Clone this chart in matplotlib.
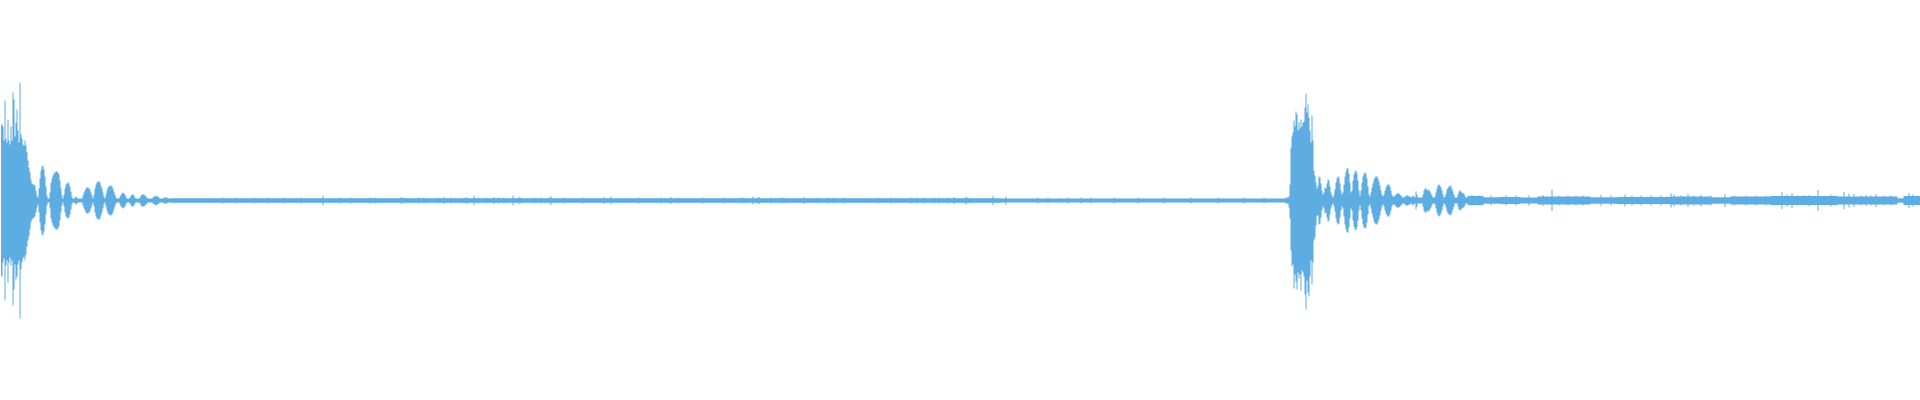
"""Waveform overview: two percussive hits with decaying ring-out on a low noise floor.

Peak envelope per display column (min/max), read off the reference.
Amplitudes are in units of 1/200 full scale.
"""
import numpy as np
import matplotlib.pyplot as plt

OUT = "out.png"
WAVE = "#5DADE2"

N_COLS = 1920
FULL_SCALE = 200

# ---- hit 1 (starts at column 0) ----
HIT1_START = 0
HIT1_TOP = [76, 76, 74, 60, 100, 62, 58, 81, 60, 56, 74, 60, 108, 101, 64, 78, 91, 70, 58, 118,
            66, 62, 56, 55, 60, 55, 48, 40, 33, 28, 21, 17, 16, 16, 15, 10, 5, 3]
HIT1_BOT = [76, 76, 62, 58, 100, 65, 60, 82, 62, 57, 65, 60, 105, 89, 64, 79, 76, 64, 60, 118,
            69, 62, 58, 56, 60, 54, 46, 40, 36, 29, 22, 19, 18, 17, 16, 12, 7, 4]
# ring-out after the attack (symmetric)
HIT1_DECAY = [12, 22, 30, 34, 35, 31, 24, 14, 5, 2, 2,
              8, 18, 22, 25, 27, 28, 29, 29, 28, 26, 20, 12, 5, 2,
              6, 12, 16, 17, 18, 17, 14, 9, 4, 2, 2,
              3, 4, 3, 2, 2, 2, 2, 2,
              5, 8, 10, 12, 13, 13, 12, 11, 8, 5, 2,
              6, 12, 16, 18, 19, 19, 18, 15, 12, 8, 4, 2,
              6, 10, 13, 14, 15, 15, 14, 12, 9, 6, 3, 2, 2, 2,
              4, 6, 7, 8, 7, 6, 4, 2, 2, 2,
              3, 5, 6, 6, 5, 3, 2, 2, 2, 2,
              3, 5, 6, 6, 6, 5, 4, 3, 2, 2, 2, 2, 2,
              3, 4, 4, 5, 4, 4, 3, 2, 2,
              2, 2, 3, 3, 3, 3, 2, 2, 2, 2]

# ---- hit 2 ----
HIT2_START = 1285
HIT2_TOP = [3, 3, 3, 4, 16, 53, 64, 68, 80, 74, 89, 86, 70, 78, 72, 81, 74, 78, 79, 93,
            107, 88, 96, 83, 70, 58, 85, 60, 30, 25, 18, 12]
HIT2_BOT = [3, 3, 3, 7, 18, 50, 66, 64, 88, 74, 81, 89, 72, 78, 74, 90, 70, 72, 76, 94,
            109, 80, 92, 96, 76, 60, 84, 62, 40, 37, 25, 15]
HIT2_DECAY = [15, 24, 23, 17, 10, 6, 8, 13, 12, 17,
              21, 20, 14, 8, 5, 3, 6, 11, 18, 22,
              24, 23, 17, 10, 6, 8, 16, 24, 29, 32,
              32, 27, 18, 8, 10, 20, 26, 29, 30, 27,
              20, 10, 5, 10, 18, 24, 27, 28, 27, 22,
              14, 6, 4, 8, 13, 17, 21, 23, 24, 24,
              22, 19, 15, 10, 6, 4, 6, 10, 13, 15,
              16, 16, 14, 10, 6, 4, 4, 5, 6, 7,
              7, 7, 6, 5, 4, 3, 3, 4, 5, 5,
              5, 4, 4, 3, 4, 5, 4, 3, 9, 6,
              3, 3, 3, 3, 3, 6, 10, 12, 12, 11,
              10, 11, 9, 7, 5, 3, 3, 4, 8, 12,
              15, 16, 15, 13, 10, 6, 3, 4, 7, 11,
              13, 14, 14, 15, 12, 9, 6, 3, 3, 3,
              6, 9, 10, 9, 8, 7, 7, 5, 3, 3]

# ---- noise floor, piecewise level ----
FLOOR_FROM = [0, 171, 1000, 1467, 1483, 1500, 1520, 1537, 1590, 1617, 1670, 1710, 1730, 1770,
              1837, 1897, 1903]
FLOOR_LEVEL = [2.3, 2.3, 2.0, 4.5, 3.2, 3.6, 3.0, 4.0, 3.2, 3.6, 4.0, 3.2, 4.0, 4.5, 4.0, 2.2, 4.5]

# isolated clicks in the floor
SPIKE_COL = [222, 235, 253, 267, 283, 300, 322, 339, 350, 369, 374, 400, 403, 417, 423, 437,
             443, 450, 463, 466, 473, 477, 485, 493, 498, 503, 512, 518, 520, 533, 540, 548,
             550, 563, 582, 603, 610, 638, 660, 670, 677, 702, 723, 740, 743, 752, 757, 758,
             770, 780, 783, 803, 817, 827, 833, 843, 877, 890, 910, 916, 923, 933, 938, 947,
             953, 965, 967, 992, 1005, 1037, 1047, 1060, 1067, 1080, 1090, 1113, 1137, 1163,
             1190, 1217, 1243, 1263,
             1471, 1478, 1490, 1505, 1515, 1528, 1542, 1551, 1558, 1567, 1575, 1582, 1600,
             1610, 1624, 1631, 1640, 1650, 1660, 1670, 1673, 1680, 1687, 1693, 1700, 1710,
             1724, 1733, 1745, 1755, 1765, 1775, 1781, 1786, 1791, 1797, 1803, 1808, 1817,
             1823, 1830, 1835, 1843, 1848, 1853, 1860, 1865, 1870, 1875, 1883, 1890, 1908,
             1912, 1917]
SPIKE_AMP = [3, 3, 3, 3, 3, 3, 5, 3, 3, 3, 3, 3.5, 3, 3, 3, 3,
             3.5, 3, 3, 3.5, 5, 3, 3, 3.5, 3, 3, 5, 3.5, 3, 3, 3, 3,
             4.5, 3, 3, 3.5, 4, 3, 3, 3.5, 3, 3, 3, 3, 3, 4, 3, 3.5,
             3, 3, 3, 3.5, 3, 3, 3, 3, 3, 3, 3, 3, 3, 3, 3, 3,
             3.5, 4, 3, 4.5, 4, 3, 3, 2.5, 3, 3, 3, 3, 3, 3,
             3, 3, 3, 3,
             5.5, 5, 5, 5, 5, 5, 5.5, 10.5, 5, 5, 5, 5, 5.5,
             5, 6, 5, 5, 5, 5, 7, 6, 5, 6.5, 5, 6, 5,
             6.5, 5, 5, 5, 5, 5, 8.5, 6, 7.5, 5, 5, 5.5, 10.5,
             5, 6, 5, 8.5, 7, 6.5, 5, 5.5, 5, 6.5, 5, 5, 7.5,
             6, 5]


def build_envelope():
    top = np.zeros(N_COLS)
    bot = np.zeros(N_COLS)
    edges = FLOOR_FROM + [N_COLS]
    for a, b, lev in zip(edges[:-1], edges[1:], FLOOR_LEVEL):
        top[a:b] = lev
        bot[a:b] = lev
    for start, t, b, decay in ((HIT1_START, HIT1_TOP, HIT1_BOT, HIT1_DECAY),
                               (HIT2_START, HIT2_TOP, HIT2_BOT, HIT2_DECAY)):
        n = len(t)
        top[start:start + n] = t
        bot[start:start + n] = b
        m = len(decay)
        top[start + n:start + n + m] = decay
        bot[start + n:start + n + m] = decay
    for c, amp in zip(SPIKE_COL, SPIKE_AMP):
        top[c] = max(top[c], amp)
        bot[c] = max(bot[c], amp)
    return top, bot


def main():
    top, bot = build_envelope()
    x = np.arange(N_COLS)

    fig = plt.figure(figsize=(19.2, 4.0), dpi=100)
    fig.patch.set_facecolor("white")
    ax = fig.add_axes([0, 0, 1, 1])
    ax.fill_between(x, -bot, top, step="mid", color=WAVE, linewidth=0)
    ax.set_xlim(-0.5, N_COLS - 0.5)
    ax.set_ylim(-FULL_SCALE, FULL_SCALE)
    ax.axis("off")

    fig.savefig(OUT, dpi=100, facecolor="white")


if __name__ == "__main__":
    main()
